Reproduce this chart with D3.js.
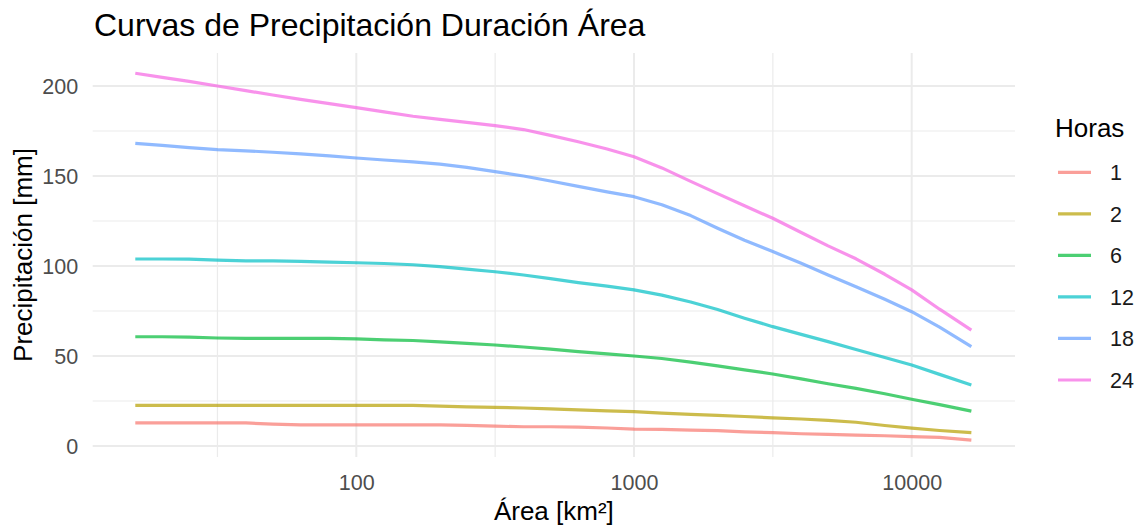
<!DOCTYPE html>
<html>
<head>
<meta charset="utf-8">
<script src="https://cdn.jsdelivr.net/npm/d3@7"></script>
<style>
  html, body { margin: 0; padding: 0; background: #ffffff; }
  svg { display: block; font-family: "Liberation Sans", Arial, sans-serif; }
</style>
</head>
<body>
<svg id="chart" width="1140" height="527"></svg>
<script>
// Área de la cuenca (km²) donde se evalúa cada curva
const areas = [16, 20, 25, 31.6, 40, 50, 63, 80, 100, 126, 160, 200, 250, 316, 400, 500,
               630, 800, 1000, 1260, 1600, 2000, 2500, 3160, 4000, 5000, 6300, 8000,
               10000, 12600, 16400];

// Precipitación (mm) para cada duración
const horas1  = [12.8, 12.8, 12.8, 12.8, 12.8, 12.2, 11.7, 11.7, 11.7, 11.7, 11.7, 11.7, 11.5, 11.0, 10.7, 10.7,
                 10.5, 10.0, 9.4, 9.2, 8.8, 8.5, 7.8, 7.4, 6.8, 6.5, 6.0, 5.7, 5.2, 4.8, 3.3];
const horas2  = [22.6, 22.6, 22.6, 22.6, 22.6, 22.6, 22.6, 22.6, 22.6, 22.6, 22.6, 22.2, 21.7, 21.5, 21.1, 20.6,
                 20.1, 19.5, 19.1, 18.3, 17.6, 17.0, 16.4, 15.6, 15.0, 14.2, 13.2, 11.4, 9.9, 8.6, 7.4];
const horas6  = [60.7, 60.7, 60.5, 60.0, 59.8, 59.8, 59.8, 59.8, 59.5, 59.0, 58.6, 57.9, 57.0, 56.1, 55.0, 53.8,
                 52.4, 51.2, 50.0, 48.6, 46.6, 44.5, 42.3, 40.0, 37.3, 34.6, 32.0, 29.0, 26.0, 23.0, 19.4];
const horas12 = [103.9, 103.9, 103.8, 103.3, 102.9, 102.8, 102.6, 102.2, 101.8, 101.4, 100.7, 99.6, 98.3, 96.8, 95.0, 93.0,
                 90.8, 88.8, 86.7, 83.8, 80.0, 75.8, 71.0, 66.3, 62.0, 58.0, 53.6, 49.2, 45.0, 39.8, 33.9];
const horas18 = [168.1, 167.0, 165.8, 164.7, 164.0, 163.2, 162.3, 161.2, 160.0, 158.9, 157.8, 156.6, 154.8, 152.4, 150.0, 147.2,
                 144.2, 141.2, 138.5, 134.0, 128.0, 121.0, 114.3, 108.0, 101.5, 95.0, 88.5, 81.5, 74.6, 66.0, 55.2];
const horas24 = [207.1, 204.8, 202.6, 200.0, 197.4, 195.0, 192.6, 190.2, 188.0, 185.6, 183.2, 181.5, 179.8, 178.0, 175.8, 172.6,
                 169.0, 165.0, 160.7, 154.5, 147.0, 140.2, 133.5, 126.5, 118.6, 111.2, 104.0, 95.4, 86.7, 76.0, 64.4];

const duraciones = ["1", "2", "6", "12", "18", "24"];
const seriesValues = [horas1, horas2, horas6, horas12, horas18, horas24];
const colores = ["#F8766D", "#B79F00", "#00BA38", "#00BFC4", "#619CFF", "#F564E3"];

const xTicks = [100, 1000, 10000];
const xMinor = [31.6228, 316.228, 3162.28];
const yTicks = [0, 50, 100, 150, 200];
const yMinor = [25, 75, 125, 175];

const titulo = "Curvas de Precipitación Duración Área";
const tituloX = "Área [km²]";
const tituloY = "Precipitación [mm]";
const tituloLeyenda = "Horas";

const svg = d3.select("#chart");
const panel = { left: 92.7, right: 1015, top: 53, bottom: 457 };

const x = d3.scaleLog().domain([11.24, 23550]).range([panel.left, panel.right]);
const y = d3.scaleLinear().domain([-6.11, 218.33]).range([panel.bottom, panel.top]);

const grid = svg.append("g");
// líneas de cuadrícula secundarias
grid.selectAll(".ymin").data(yMinor).join("line")
  .attr("x1", panel.left).attr("x2", panel.right)
  .attr("y1", d => y(d)).attr("y2", d => y(d))
  .attr("stroke", "#EBEBEB").attr("stroke-width", 1.2);
grid.selectAll(".xmin").data(xMinor).join("line")
  .attr("y1", panel.top).attr("y2", panel.bottom)
  .attr("x1", d => x(d)).attr("x2", d => x(d))
  .attr("stroke", "#EBEBEB").attr("stroke-width", 1.2);
// líneas de cuadrícula principales
grid.selectAll(".ymaj").data(yTicks).join("line")
  .attr("x1", panel.left).attr("x2", panel.right)
  .attr("y1", d => y(d)).attr("y2", d => y(d))
  .attr("stroke", "#EBEBEB").attr("stroke-width", 2);
grid.selectAll(".xmaj").data(xTicks).join("line")
  .attr("y1", panel.top).attr("y2", panel.bottom)
  .attr("x1", d => x(d)).attr("x2", d => x(d))
  .attr("stroke", "#EBEBEB").attr("stroke-width", 2);

// ejes
const xAxis = d3.axisBottom(x).tickValues(xTicks).tickFormat(d3.format("d")).tickSize(0).tickPadding(0);
const gx = svg.append("g").attr("transform", `translate(0,${panel.bottom})`).call(xAxis);
gx.select(".domain").remove();
gx.selectAll("text").attr("dy", null).attr("y", 33)
  .attr("font-size", 21.5).attr("fill", "#4D4D4D").attr("font-family", "Liberation Sans, Arial, sans-serif");

const yAxis = d3.axisLeft(y).tickValues(yTicks).tickSize(0).tickPadding(0);
const gy = svg.append("g").attr("transform", `translate(${panel.left},0)`).call(yAxis);
gy.select(".domain").remove();
gy.selectAll("text").attr("x", -14.5).attr("dy", "0.36em")
  .attr("font-size", 21.5).attr("fill", "#4D4D4D").attr("font-family", "Liberation Sans, Arial, sans-serif");

// curvas
const line = d3.line().x(d => x(d[0])).y(d => y(d[1]));
svg.append("g").selectAll("path").data(seriesValues).join("path")
  .attr("d", vals => line(areas.map((a, i) => [a, vals[i]])))
  .attr("fill", "none")
  .attr("stroke", (d, i) => colores[i])
  .attr("stroke-opacity", 0.7)
  .attr("stroke-width", 3.2)
  .attr("stroke-linejoin", "round");

// títulos
svg.append("text").attr("x", 94).attr("y", 35.5)
  .attr("font-size", 32).attr("fill", "#000").text(titulo);
svg.append("text").attr("x", (panel.left + panel.right) / 2).attr("y", 520)
  .attr("text-anchor", "middle").attr("font-size", 26).attr("fill", "#000").text(tituloX);
svg.append("text").attr("transform", `translate(31.5,${(panel.top + panel.bottom) / 2}) rotate(-90)`)
  .attr("text-anchor", "middle").attr("font-size", 26).attr("fill", "#000").text(tituloY);

// leyenda
const leg = svg.append("g");
leg.append("text").attr("x", 1055).attr("y", 137).attr("font-size", 26).attr("fill", "#000").text(tituloLeyenda);
const legY = d3.scalePoint().domain(duraciones).range([172.3, 380]);
const items = leg.selectAll(".item").data(duraciones).join("g")
  .attr("transform", d => `translate(0,${legY(d)})`);
items.append("line").attr("x1", 1058).attr("x2", 1091).attr("y1", 0).attr("y2", 0)
  .attr("stroke", (d, i) => colores[i]).attr("stroke-opacity", 0.7).attr("stroke-width", 3.2);
items.append("text").attr("x", 1110).attr("dy", "0.36em")
  .attr("font-size", 21.5).attr("fill", "#1A1A1A").text(d => d);
</script>
</body>
</html>
